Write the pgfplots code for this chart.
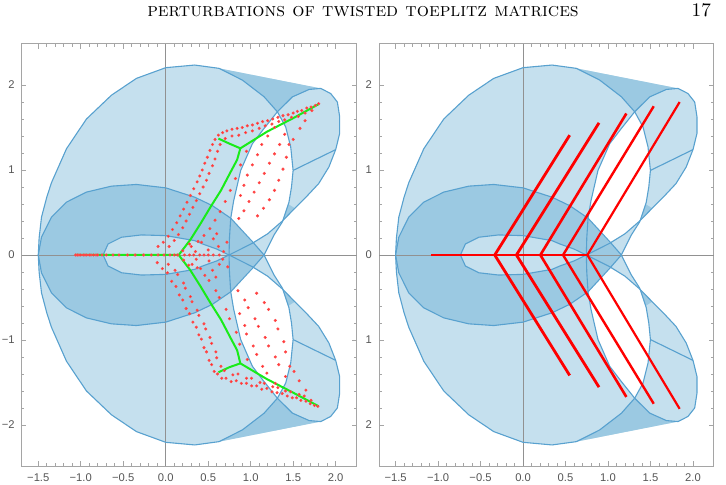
\documentclass[border=0pt]{standalone}
\usepackage{pgfplots}
\pgfplotsset{compat=1.18}
\usepackage{fontspec}
\newfontfamily\tickfont{Liberation Sans}
\definecolor{lightfill}{RGB}{197,224,238}
\definecolor{darkfill}{RGB}{155,201,226}
\definecolor{edgeblue}{RGB}{88,161,207}
\definecolor{framegray}{RGB}{165,165,165}
\definecolor{ticklab}{RGB}{85,85,85}
\definecolor{axgray}{RGB}{145,145,145}
\definecolor{brightgreen}{RGB}{25,235,25}

\pgfplotsset{panel/.style={
  scale only axis, width=167.4pt, height=211.2pt,
  xmin=-1.695, xmax=2.245, ymin=-2.485, ymax=2.485,
  axis line style={framegray, line width=0.5pt},
  xtick={-1.5,-1,...,2}, ytick={-2,-1,0,1,2},
  minor x tick num=4, minor y tick num=4,
  tick align=inside, major tick length=2.4pt, minor tick length=1.4pt,
  every tick/.style={framegray, line width=0.4pt},
  tick label style={font=\tickfont\fontsize{5.6}{6}\selectfont, text=ticklab},
  xticklabels={−1.5,−1.0,−0.5,0.0,0.5,1.0,1.5,2.0},
  xticklabel style={yshift=-0.3pt},
  clip=true,
}}

\newcommand{\drawshape}{%
  \addplot[fill=lightfill, draw=none] coordinates {(-1.50,0) (-1.49,0.2) (-1.462,0.445) (-1.40,0.68) (-1.345,0.85) (-1.168,1.25) (-0.933,1.60) (-0.639,1.88) (-0.345,2.078) (0,2.204) (0.341,2.235) (0.628,2.196) (1.824,1.96) (1.941,1.90) (2.02,1.80) (2.047,1.626) (2.047,1.43) (2.0,1.24) (1.92,1.035) (1.80,0.84) (1.65,0.68) (1.50,0.53) (1.373,0.40) (1.275,0.236) (1.157,0) (1.275,-0.236) (1.373,-0.40) (1.50,-0.53) (1.65,-0.68) (1.80,-0.84) (1.92,-1.035) (2.0,-1.24) (2.047,-1.43) (2.047,-1.626) (2.02,-1.80) (1.941,-1.90) (1.824,-1.96) (0.628,-2.196) (0.341,-2.235) (0,-2.204) (-0.345,-2.078) (-0.639,-1.88) (-0.933,-1.60) (-1.168,-1.25) (-1.345,-0.85) (-1.40,-0.68) (-1.462,-0.445) (-1.49,-0.2)} -- cycle;
  \addplot[fill=darkfill, draw=none] coordinates {(-1.50,0) (-1.462,0.21) (-1.345,0.445) (-1.168,0.622) (-0.933,0.74) (-0.639,0.81) (-0.345,0.83) (0,0.79) (0.341,0.68) (0.55,0.58) (0.765,0.433) (1.02,0.157) (1.157,0) (1.02,-0.157) (0.765,-0.433) (0.55,-0.58) (0.341,-0.68) (0,-0.79) (-0.345,-0.83) (-0.639,-0.81) (-0.933,-0.74) (-1.168,-0.622) (-1.345,-0.445) (-1.462,-0.21)} -- cycle;
  \addplot[fill=lightfill, draw=none] coordinates {(-0.737,0) (-0.678,0.13) (-0.52,0.209) (-0.286,0.236) (0,0.228) (0.341,0.169) (0.432,0.13) (0.6,0.07) (0.745,0) (0.6,-0.07) (0.432,-0.13) (0.341,-0.169) (0,-0.228) (-0.286,-0.236) (-0.52,-0.209) (-0.678,-0.13)} -- cycle;
  \addplot[fill=darkfill, draw=none] coordinates {(0.628,2.196) (1.824,1.96) (1.687,1.948) (1.49,1.86) (1.314,1.685) (1.157,1.862) (0.902,2.058)} -- cycle;
  \addplot[fill=darkfill, draw=none] coordinates {(0.628,-2.196) (1.824,-1.96) (1.687,-1.948) (1.49,-1.86) (1.314,-1.685) (1.157,-1.862) (0.902,-2.058)} -- cycle;
  \addplot[fill=darkfill, draw=none] coordinates {(1.373,0.40) (1.44,0.60) (1.52,0.55)} -- cycle;
  \addplot[fill=darkfill, draw=none] coordinates {(1.373,-0.40) (1.44,-0.60) (1.52,-0.55)} -- cycle;
  \addplot[fill=white, draw=none] coordinates {(1.314,1.685) (1.15,1.48) (1.02,1.31) (0.882,0.995) (0.80,0.64) (0.765,0.433) (1.02,0.15) (1.2,0.25) (1.373,0.40) (1.45,0.62) (1.48,0.80) (1.499,0.995) (1.471,1.27) (1.412,1.507)} -- cycle;
  \addplot[fill=white, draw=none] coordinates {(1.314,-1.685) (1.15,-1.48) (1.02,-1.31) (0.882,-0.995) (0.80,-0.64) (0.765,-0.433) (1.02,-0.15) (1.2,-0.25) (1.373,-0.40) (1.45,-0.62) (1.48,-0.80) (1.499,-0.995) (1.471,-1.27) (1.412,-1.507)} -- cycle;
  \addplot[axgray, line width=0.45pt] coordinates {(-1.695,0) (2.245,0)};
  \addplot[axgray, line width=0.45pt] coordinates {(0,-2.485) (0,2.485)};
  \addplot[edgeblue, line width=0.55pt] coordinates {(1.314,-1.685) (1.157,-1.862) (0.902,-2.058) (0.628,-2.196) (0.341,-2.235) (0,-2.204) (-0.345,-2.078) (-0.639,-1.88) (-0.933,-1.60) (-1.168,-1.25) (-1.345,-0.85) (-1.40,-0.68) (-1.462,-0.445) (-1.49,-0.2) (-1.50,0) (-1.49,0.2) (-1.462,0.445) (-1.40,0.68) (-1.345,0.85) (-1.168,1.25) (-0.933,1.60) (-0.639,1.88) (-0.345,2.078) (0,2.204) (0.341,2.235) (0.628,2.196) (0.902,2.058) (1.157,1.862) (1.314,1.685)};
  \addplot[edgeblue, line width=0.55pt] coordinates {(1.314,1.685) (1.15,1.48) (1.02,1.31) (0.882,0.995) (0.80,0.64) (0.765,0.433) (0.75,0.2) (0.745,0) (0.75,-0.2) (0.765,-0.433) (0.80,-0.64) (0.882,-0.995) (1.02,-1.31) (1.15,-1.48) (1.314,-1.685)};
  \addplot[edgeblue, line width=0.55pt] coordinates {(1.314,1.685) (1.412,1.507) (1.471,1.27) (1.499,0.995) (1.48,0.80) (1.45,0.62) (1.373,0.39) (1.275,0.236) (1.157,0) (1.275,-0.236) (1.373,-0.39) (1.45,-0.62) (1.48,-0.80) (1.499,-0.995) (1.471,-1.27) (1.412,-1.507) (1.314,-1.685)};
  \addplot[edgeblue, line width=0.55pt] coordinates {(1.314,1.685) (1.49,1.86) (1.687,1.948) (1.824,1.96) (1.941,1.90) (2.02,1.80) (2.047,1.626) (2.047,1.43) (2.0,1.24) (1.92,1.035) (1.80,0.84) (1.65,0.68) (1.50,0.53) (1.373,0.40) (1.2,0.25) (1.02,0.138) (0.745,0) (1.02,-0.138) (1.2,-0.25) (1.373,-0.40) (1.50,-0.53) (1.65,-0.68) (1.80,-0.84) (1.92,-1.035) (2.0,-1.24) (2.047,-1.43) (2.047,-1.626) (2.02,-1.80) (1.941,-1.90) (1.824,-1.96) (1.687,-1.948) (1.49,-1.86) (1.314,-1.685)};
  \addplot[edgeblue, line width=0.55pt] coordinates {(2.0,1.24) (1.499,0.995)};
  \addplot[edgeblue, line width=0.55pt] coordinates {(2.0,-1.24) (1.499,-0.995)};
  \addplot[edgeblue, line width=0.55pt] coordinates {(-1.50,0) (-1.462,0.21) (-1.345,0.445) (-1.168,0.622) (-0.933,0.74) (-0.639,0.81) (-0.345,0.83) (0,0.79) (0.341,0.68) (0.55,0.58) (0.765,0.433) (1.02,0.157) (1.157,0) (1.02,-0.157) (0.765,-0.433) (0.55,-0.58) (0.341,-0.68) (0,-0.79) (-0.345,-0.83) (-0.639,-0.81) (-0.933,-0.74) (-1.168,-0.622) (-1.345,-0.445) (-1.462,-0.21) (-1.50,0)};
  \addplot[edgeblue, line width=0.55pt] coordinates {(-0.737,0) (-0.678,0.13) (-0.52,0.209) (-0.286,0.236) (0,0.228) (0.341,0.169) (0.432,0.13) (0.6,0.07) (0.745,0) (0.6,-0.07) (0.432,-0.13) (0.341,-0.169) (0,-0.228) (-0.286,-0.236) (-0.52,-0.209) (-0.678,-0.13) (-0.737,0)};
}

\begin{document}
\begin{tikzpicture}[x=1pt,y=1pt]
\useasboundingbox (0,0) rectangle (363,242.5);
\node[anchor=base] at (181.5,234) {\fontsize{9.6}{12}\selectfont\textsc{perturbations of twisted toeplitz matrices}};
\node[anchor=base east] at (359,234) {\fontsize{9.6}{12}\selectfont 17};

\begin{axis}[panel, at={(10.85pt,9.4pt)}, anchor=south west,
  yticklabels={−2,−1,0,1,2}]
\drawshape
\addplot[only marks, mark=*, mark size=0.55pt, color=red, mark options={fill=red, draw=red!70!white}] coordinates {
(1.80,1.78) (1.76,1.76) (1.71,1.74) (1.66,1.73) (1.60,1.70) (1.55,1.69) (1.50,1.67) (1.44,1.65) (1.38,1.64) (1.32,1.62) (1.26,1.60) (1.20,1.58) (1.14,1.57) (1.08,1.55) (1.02,1.53) (0.96,1.52) (0.90,1.50) (0.84,1.49) (0.78,1.48) (0.72,1.46) (0.67,1.44) (0.62,1.41) (0.58,1.36) (0.55,1.30) (0.52,1.23) (0.49,1.15) (0.46,1.08) (0.43,1.00) (0.40,0.93) (0.37,0.86) (0.33,0.78) (0.29,0.70) (0.25,0.62) (0.21,0.54) (0.17,0.46) (0.13,0.38) (0.08,0.30) (0.03,0.22) (-0.03,0.15) (-0.09,0.10)
(1.72,1.70) (1.64,1.67) (1.56,1.63) (1.48,1.62) (1.40,1.59) (1.33,1.57) (1.25,1.54) (1.17,1.52) (1.10,1.49) (1.02,1.46) (0.94,1.44) (0.86,1.41) (0.78,1.40) (0.70,1.37) (0.64,1.30) (0.61,1.22) (0.58,1.13) (0.55,1.05) (0.51,0.96) (0.48,0.88) (0.44,0.80) (0.40,0.72) (0.36,0.64) (0.32,0.56) (0.28,0.48) (0.24,0.40) (0.20,0.32) (0.15,0.24) (0.10,0.17) (0.04,0.10)
(0.95,1.22) (0.88,1.06) (0.82,0.90) (0.76,0.76) (0.70,0.63) (0.64,0.51) (0.58,0.41) (0.52,0.31) (0.45,0.23) (0.38,0.16) (0.30,0.10)
(1.40,1.42) (1.34,1.30) (1.28,1.19) (1.22,1.08) (1.16,0.96) (1.10,0.85) (1.04,0.74) (0.98,0.63) (0.92,0.52) (0.86,0.43)
(1.28,1.50) (1.20,1.40) (1.13,1.30) (1.08,1.18) (1.02,1.06) (0.96,0.94) (0.92,0.82) (0.88,0.70)
(1.45,1.30) (1.42,1.15) (1.38,1.01) (1.33,0.88) (1.28,0.76) (1.22,0.65) (1.15,0.55) (1.08,0.46)
(1.64,1.58) (1.58,1.49) (1.50,1.36)
(0.20,0.05) (0.28,0.13) (0.35,0.04) (0.42,0.15) (0.50,0.06) (0.56,0.19) (0.62,0.10) (0.68,0.04) (0.72,0.15) (0.60,0.25) (0.50,0.00) (0.56,0.00) (0.63,0.00)
(-1.06,0) (-1.04,0) (-1.02,0) (-1.00,0) (-0.97,0) (-0.95,0) (-0.93,0) (-0.90,0) (-0.88,0) (-0.85,0) (-0.82,0) (-0.80,0) (-0.75,0) (-0.70,0) (-0.62,0) (-0.55,0) (-0.45,0) (-0.36,0) (-0.26,0) (-0.17,0) (-0.09,0) (-0.02,0) (0.05,0) (0.10,0) (0.14,0) (0.22,0) (0.28,0) (0.33,0) (0.40,0) (0.45,0)
(1.79,-1.78) (1.75,-1.77) (1.70,-1.75) (1.65,-1.72) (1.59,-1.71) (1.54,-1.68) (1.49,-1.68) (1.43,-1.66) (1.37,-1.63) (1.31,-1.62) (1.25,-1.61) (1.19,-1.57) (1.13,-1.58) (1.07,-1.54) (1.01,-1.54) (0.95,-1.51) (0.89,-1.51) (0.83,-1.48) (0.77,-1.49) (0.71,-1.45) (0.66,-1.45) (0.61,-1.40) (0.57,-1.37) (0.54,-1.29) (0.51,-1.24) (0.48,-1.14) (0.45,-1.09) (0.42,-0.99) (0.39,-0.94) (0.36,-0.85) (0.32,-0.79) (0.28,-0.69) (0.24,-0.63) (0.20,-0.53) (0.16,-0.47) (0.12,-0.37) (0.07,-0.31) (0.02,-0.21) (-0.04,-0.16) (-0.10,-0.09)
(1.71,-1.71) (1.63,-1.66) (1.57,-1.64) (1.47,-1.61) (1.41,-1.60) (1.32,-1.56) (1.26,-1.55) (1.16,-1.51) (1.11,-1.50) (1.01,-1.45) (0.95,-1.45) (0.85,-1.40) (0.79,-1.41) (0.69,-1.36) (0.65,-1.31) (0.60,-1.21) (0.59,-1.14) (0.54,-1.04) (0.52,-0.97) (0.47,-0.87) (0.45,-0.81) (0.39,-0.71) (0.37,-0.65) (0.31,-0.55) (0.29,-0.49) (0.23,-0.39) (0.21,-0.33) (0.14,-0.23) (0.11,-0.18) (0.03,-0.11)
(0.96,-1.23) (0.87,-1.05) (0.83,-0.91) (0.75,-0.75) (0.71,-0.64) (0.63,-0.50) (0.59,-0.42) (0.51,-0.30) (0.46,-0.24) (0.37,-0.15) (0.31,-0.11)
(1.41,-1.43) (1.33,-1.29) (1.29,-1.20) (1.21,-1.07) (1.17,-0.97) (1.09,-0.84) (1.05,-0.75) (0.97,-0.62) (0.93,-0.53) (0.85,-0.42)
(1.29,-1.51) (1.19,-1.39) (1.14,-1.31) (1.07,-1.17) (1.03,-1.07) (0.95,-0.93) (0.93,-0.83) (0.87,-0.69)
(1.46,-1.31) (1.41,-1.14) (1.39,-1.02) (1.32,-0.87) (1.29,-0.77) (1.21,-0.64) (1.16,-0.56) (1.07,-0.45)
(1.65,-1.59) (1.57,-1.48) (1.51,-1.37)
(0.21,-0.06) (0.27,-0.12) (0.36,-0.05) (0.41,-0.16) (0.51,-0.07) (0.55,-0.18) (0.63,-0.11) (0.67,-0.05) (0.73,-0.14) (0.59,-0.26)
};
\addplot[brightgreen, line width=1pt] coordinates {(-1.065,0) (0.153,0) (0.29,0.18) (0.41,0.37) (0.53,0.57) (0.65,0.76) (0.76,0.97) (0.84,1.12) (0.878,1.255) (1.19,1.45) (1.5,1.61) (1.80,1.775)};
\addplot[brightgreen, line width=1pt] coordinates {(0.878,1.255) (0.75,1.31) (0.62,1.37)};
\addplot[brightgreen, line width=1pt] coordinates {(0.153,0) (0.29,-0.18) (0.41,-0.37) (0.53,-0.57) (0.65,-0.76) (0.76,-0.97) (0.84,-1.12) (0.878,-1.275) (1.19,-1.46) (1.5,-1.62) (1.80,-1.78)};
\addplot[brightgreen, line width=1pt] coordinates {(0.878,-1.275) (0.75,-1.32) (0.62,-1.38)};
\end{axis}

\begin{axis}[panel, at={(189.5pt,9.4pt)}, anchor=south west,
  yticklabels={2,1,0,1,2}]
\drawshape
\addplot[red, line width=0.9pt] coordinates {(-0.333,0) (0.757,0)};
\addplot[red, line width=1.4pt] coordinates {(-1.078,0) (-0.333,0)};
\addplot[red, line width=1.4pt] coordinates {(0.549,1.41) (-0.333,0) (0.549,-1.417)};
\addplot[red, line width=1.4pt] coordinates {(0.894,1.555) (-0.078,0) (0.894,-1.555)};
\addplot[red, line width=1.3pt] coordinates {(1.216,1.665) (0.204,0) (1.216,-1.67)};
\addplot[red, line width=1.2pt] coordinates {(1.538,1.75) (0.471,0) (1.538,-1.75)};
\addplot[red, line width=1.1pt] coordinates {(1.843,1.80) (0.757,0) (1.843,-1.81)};
\end{axis}
\end{tikzpicture}
\end{document}
